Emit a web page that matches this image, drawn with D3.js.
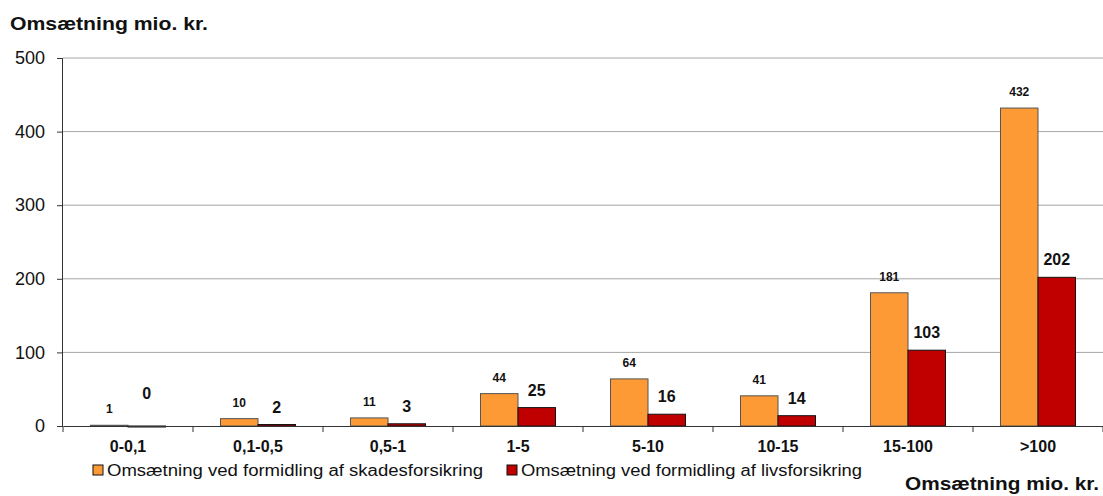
<!DOCTYPE html>
<html lang="da">
<head>
<meta charset="UTF-8">
<title>Omsætning</title>
<script src="https://d3js.org/d3.v7.min.js"></script>
<style>
  body { margin: 0; background: #fff; }
  svg { display: block; font-family: "Liberation Sans", Arial, sans-serif; }
</style>
</head>
<body>
<svg id="chart" width="1103" height="496"></svg>
<script>
const categories = ["0-0,1", "0,1-0,5", "0,5-1", "1-5", "5-10", "10-15", "15-100", ">100"];
const skades = [1, 10, 11, 44, 64, 41, 181, 432];
const livs = [0, 2, 3, 25, 16, 14, 103, 202];
const yTicks = [0, 100, 200, 300, 400, 500];
const seriesNames = ["Omsætning ved formidling af skadesforsikring", "Omsætning ved formidling af livsforsikring"];

const svg = d3.select("#chart");
const margin = { top: 58, right: 0, bottom: 70, left: 63 };
const width = 1103 - margin.left - margin.right;
const height = 496 - margin.top - margin.bottom;

const x = d3.scaleBand().domain(categories).range([0, width]);
const sub = d3.scaleBand().domain([0, 1]).range([0, 75]);
const y = d3.scaleLinear().domain([0, 500]).range([height, 0]);

const g = svg.append("g").attr("transform", `translate(${margin.left},${margin.top})`);

// gridlines
g.selectAll(".grid").data(yTicks.filter(d => d > 0)).enter()
  .append("line")
  .attr("x1", 0).attr("x2", width)
  .attr("y1", d => y(d)).attr("y2", d => y(d))
  .attr("stroke", "#a6a6a6").attr("stroke-width", 1);

const colors = ["#fd9a35", "#c00000"];
const strokes = ["#555", "#111"];
const series = [skades, livs];

series.forEach((vals, i) => {
  g.selectAll(".bar" + i).data(vals).enter()
    .append("rect")
    .attr("x", (d, j) => x(categories[j]) + (x.bandwidth() - 75) / 2 + sub(i))
    .attr("y", d => y(d))
    .attr("width", sub.bandwidth())
    .attr("height", d => Math.max(1, height - y(d)))
    .attr("fill", colors[i])
    .attr("stroke", strokes[i])
    .attr("stroke-width", 1);

  g.selectAll(".lab" + i).data(vals).enter()
    .append("text")
    .attr("x", (d, j) => x(categories[j]) + (x.bandwidth() - 75) / 2 + sub(i) + sub.bandwidth() / 2)
    .attr("y", d => y(d) - 12 - (d === 0 ? 15 : 0))
    .attr("text-anchor", "middle")
    .attr("font-weight", "bold")
    .attr("font-size", i === 0 ? 12 : 16)
    .attr("fill", "#111")
    .text(d => d);
});

// y axis
const yAxis = g.append("g")
  .call(d3.axisLeft(y).tickValues(yTicks).tickSize(6).tickPadding(12));
yAxis.select(".domain").attr("stroke", "#333").attr("d", `M-0.5,0V${height}`);
yAxis.selectAll(".tick line").attr("stroke", "#333");
yAxis.selectAll(".tick text").attr("font-size", 18).attr("fill", "#111")
  .attr("font-family", "Liberation Sans, Arial, sans-serif");

// x axis
const xAxis = g.append("g").attr("transform", `translate(0,${height})`)
  .call(d3.axisBottom(x).tickSize(0).tickPadding(15));
xAxis.select(".domain").attr("stroke", "#333");
xAxis.selectAll(".tick text").attr("font-size", 16).attr("font-weight", "bold").attr("fill", "#111")
  .attr("font-family", "Liberation Sans, Arial, sans-serif");
g.append("g").selectAll("line").data(categories.concat(["end"])).enter()
  .append("line")
  .attr("x1", (d, j) => j * x.step()).attr("x2", (d, j) => j * x.step())
  .attr("y1", height).attr("y2", height + 6)
  .attr("stroke", "#333");

// titles
svg.append("text").attr("x", 10).attr("y", 30)
  .attr("font-size", 19).attr("font-weight", "bold").attr("fill", "#111")
  .attr("textLength", 198).attr("lengthAdjust", "spacingAndGlyphs")
  .text("Omsætning mio. kr.");
svg.append("text").attr("x", 905).attr("y", 490)
  .attr("font-size", 19).attr("font-weight", "bold").attr("fill", "#111")
  .attr("textLength", 194).attr("lengthAdjust", "spacingAndGlyphs")
  .text("Omsætning mio. kr.");

// legend
const legendX = [93, 507];
const legendLen = [376, 341];
seriesNames.forEach((name, i) => {
  svg.append("rect").attr("x", legendX[i]).attr("y", 465).attr("width", 10).attr("height", 10)
    .attr("fill", colors[i]).attr("stroke", "#111").attr("stroke-width", 1);
  svg.append("text").attr("x", legendX[i] + 14).attr("y", 476)
    .attr("font-size", 16).attr("fill", "#111")
    .attr("textLength", legendLen[i]).attr("lengthAdjust", "spacingAndGlyphs")
    .text(name);
});
</script>
</body>
</html>
